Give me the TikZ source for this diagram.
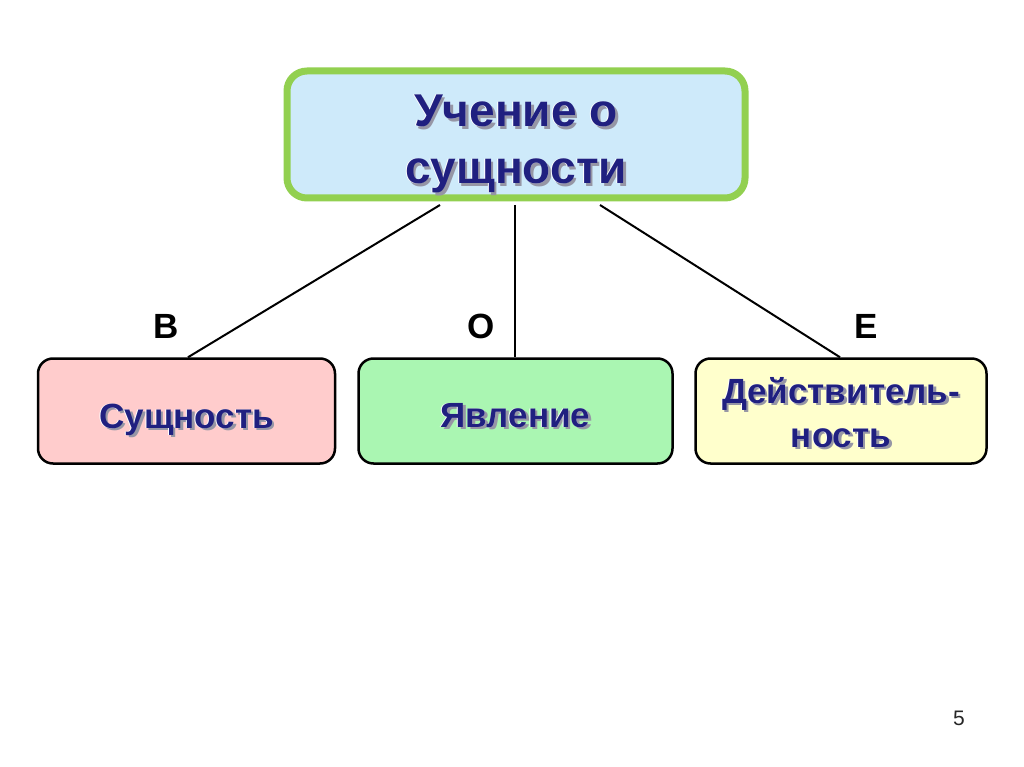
\documentclass[tikz,border=0pt]{standalone}
\usepackage{fontspec}
\setmainfont{Liberation Sans}
\definecolor{navy}{RGB}{32,32,128}
\definecolor{topfill}{RGB}{206,234,250}
\definecolor{topframe}{RGB}{146,208,80}
\definecolor{pinkfill}{RGB}{255,204,204}
\definecolor{greenfill}{RGB}{170,246,178}
\definecolor{yellowfill}{RGB}{255,255,204}
\definecolor{shadowgray}{RGB}{150,150,165}
\newcommand\shtxt[1]{\leavevmode\rlap{\hspace{2.5pt}\raisebox{-2.5pt}{\color{shadowgray}#1}}\rlap{\hspace{-0.8pt}{\color{white}#1}}#1}
\newcommand\placed[2]{\raisebox{#1}[0pt][0pt]{\begin{tabular}[t]{@{}c@{}}#2\end{tabular}}}
\tikzset{
  x=1pt,y=-1pt,
  topbox/.style={draw=topframe,line width=7pt,fill=topfill,rounded corners=20pt,
    minimum width=458pt,minimum height=127pt,inner sep=0pt,align=center,
    font=\fontsize{46}{57}\selectfont\bfseries,text=navy},
  subbox/.style={draw=black,line width=2.5pt,rounded corners=15pt,
    minimum height=105pt,inner sep=0pt,align=center,
    font=\fontsize{35}{44}\selectfont\bfseries,text=navy},
  letter/.style={font=\fontsize{35}{40}\selectfont\bfseries,text=black},
  link/.style={draw=black,line width=2pt}
}
\begin{document}
\begin{tikzpicture}
\useasboundingbox[fill=white] (0,0) rectangle (1024,767);
\node[topbox] (top) at (516,134.5) {\placed{7.5pt}{\shtxt{Учение о}\\\shtxt{сущности}}};
\node[subbox,fill=pinkfill,minimum width=297pt] (sus) at (186.5,411) {\placed{-17pt}{\shtxt{Сущность}}};
\node[subbox,fill=greenfill,minimum width=314pt] (yav) at (515.5,411) {\placed{-16pt}{\shtxt{Явление}}};
\node[subbox,fill=yellowfill,minimum width=291pt] (dei) at (841,411) {\placed{8pt}{\shtxt{Действитель-}\\\shtxt{ность}}};
\node[letter] (lb) at (166,326) {В};
\node[letter] (lo) at (481,326) {О};
\node[letter] (le) at (866,326) {Е};
\node[font=\fontsize{21}{24}\selectfont,text=black!85] (pg) at (959,718) {5};
\draw[link] ([xshift=-76pt,yshift=-3.5pt]top.south) -- ([xshift=1.5pt]sus.north);
\draw[link] ([xshift=-1pt,yshift=-3.5pt]top.south) -- ([xshift=-0.5pt]yav.north);
\draw[link] ([xshift=84pt,yshift=-3.5pt]top.south) -- ([xshift=-1pt]dei.north);
\end{tikzpicture}
\end{document}
